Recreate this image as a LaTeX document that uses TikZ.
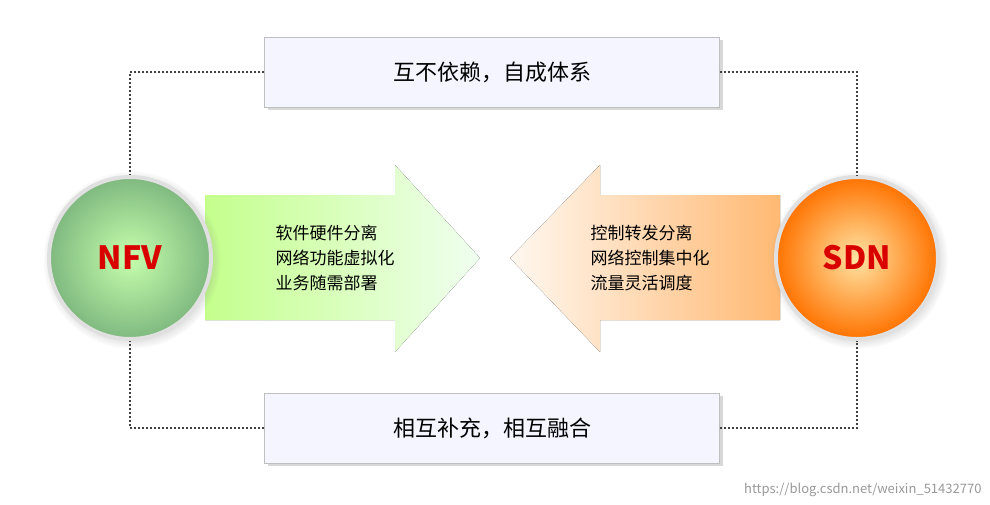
\documentclass[tikz,border=0pt]{standalone}
\usepackage{fontspec}
\setmainfont{Noto Sans CJK SC}
\usetikzlibrary{positioning,shadows}
\tikzset{
  topbox/.style={draw=black!25,fill=blue!4,minimum width=455pt,minimum height=70pt,
    font=\fontsize{22}{24}\selectfont,drop shadow={shadow xshift=3pt,shadow yshift=-3pt,opacity=.3}},
  ball/.style={circle,minimum size=162pt,draw=black!12,line width=4pt,font=\fontsize{32}{34}\selectfont\bfseries},
  dotline/.style={dotted,line width=2pt,black!75},
  armtext/.style={font=\fontsize{17}{25}\selectfont,align=left}
}
\begin{document}
\begin{tikzpicture}[x=1pt,y=-1pt]
  \useasboundingbox (0,0) rectangle (990,504);
  \fill[white] (0,0) rectangle (990,504);
  % arrows
  \fill[left color=green!35!lime!45!white,right color=green!6] (205,195) -- (395,195) -- (395,165) -- (480,258)
    -- (395,352) -- (395,320) -- (205,320) -- cycle;
  \fill[right color=orange!55,left color=orange!6] (780,195) -- (600,195) -- (600,165) -- (510,258)
    -- (600,352) -- (600,320) -- (780,320) -- cycle;
  % circles
  \node[ball,inner color=green!25!white!90!yellow,outer color=green!45!black!50!white,text=red!85!black,circular drop shadow={opacity=.3}] (nfv) at (130,258) {NFV};
  \node[ball,inner color=yellow!40!orange!35!white,outer color=orange!90!red,text=red!85!black,circular drop shadow={opacity=.3}] (sdn) at (857,258) {SDN};
  \node[armtext] (gtext) at (335,258) {软件硬件分离\\网络功能虚拟化\\业务随需部署};
  \node[armtext] (otext) at (650,258) {控制转发分离\\网络控制集中化\\流量灵活调度};
  % boxes
  \node[topbox] (top) at (492,72) {互不依赖，自成体系};
  \node[topbox] (bot) at (492,428) {相互补充，相互融合};
  \draw[dotline] (top.west) -| (nfv.north);
  \draw[dotline] (top.east) -| (sdn.north);
  \draw[dotline] (bot.west) -| (nfv.south);
  \draw[dotline] (bot.east) -| (sdn.south);
  \node[anchor=south east,text=black!40,font=\fontsize{13}{14}\selectfont] (mark) at (985,500) {https://blog.csdn.net/weixin\_51432770};
\end{tikzpicture}
\end{document}
